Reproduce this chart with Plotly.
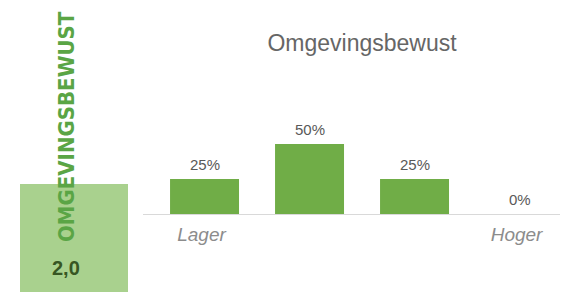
import plotly.graph_objects as go

# Data
values = [25, 50, 25, 0]            # percentages per level
tick_labels = ["Lager", "", "", "Hoger"]
title_text = "Omgevingsbewust"
side_label = "OMGEVINGSBEWUST"
score = 2.0
score_max = 5

W, H = 568, 294
O = 8  # default page body margin compensation
x_pos = list(range(len(values)))


def px(x):
    return (x - O) / W


def py(y):
    return 1 - (y - O) / H


fig = go.Figure()

fig.add_trace(go.Bar(
    x=x_pos, y=values, width=0.657,
    marker=dict(color="#70ad47", line=dict(width=0)),
    hoverinfo="skip", xaxis="x", yaxis="y",
))

# value labels above bars
for xi, v in zip(x_pos, values):
    fig.add_annotation(
        x=xi, y=v, xref="x", yref="y", text=f"{v}%", showarrow=False,
        yanchor="middle", yshift=15,
        font=dict(family="Liberation Sans, Arial", size=15, color="#595959"),
    )

# score gauge on the left
fig.add_trace(go.Bar(
    x=[0], y=[score], width=1,
    marker=dict(color="#a9d18e", line=dict(width=0)),
    hoverinfo="skip", xaxis="x2", yaxis="y2",
))

fig.update_layout(
    width=W, height=H,
    margin=dict(l=0, r=0, t=0, b=0),
    paper_bgcolor="white", plot_bgcolor="white",
    showlegend=False,
    xaxis=dict(domain=[px(143), 1], range=[-0.586, -0.586 + (W + O - 143) / 105],
               tickvals=x_pos, ticktext=tick_labels,
               tickfont=dict(family="Liberation Sans, Arial", size=19, color="#8c8c8c", style="italic"),
               showline=True, linecolor="#d9d9d9", linewidth=1,
               showgrid=False, zeroline=False, ticks="", anchor="y",
               ticklabelstandoff=3, ticklabelshift=-3),
    yaxis=dict(domain=[py(214), 1], range=[0, (214 - O) / 1.4], visible=False,
               showgrid=False, zeroline=False, anchor="x"),
    xaxis2=dict(domain=[px(20), px(128)], range=[-0.5, 0.5], visible=False, anchor="y2"),
    yaxis2=dict(domain=[py(292), py(22)], range=[0, score_max], visible=False, anchor="x2"),
    title=dict(text=title_text, x=px(362), y=py(43), xanchor="center", yanchor="middle",
               font=dict(family="Liberation Sans, Arial", size=23, color="#666666")),
)

fig.add_annotation(
    text=side_label, xref="paper", yref="paper", x=px(66), y=py(127),
    textangle=-90, showarrow=False, xanchor="center", yanchor="middle",
    font=dict(family="DejaVu Sans Condensed", size=22, color="#5aa545", weight="bold"),
)
fig.add_annotation(
    text=f"{score:.1f}".replace(".", ","), xref="paper", yref="paper",
    x=px(66), y=py(268), showarrow=False, xanchor="center", yanchor="middle",
    font=dict(family="Liberation Sans, Arial", size=20, color="#375623", weight="bold"),
)

fig.write_html("out.html")
